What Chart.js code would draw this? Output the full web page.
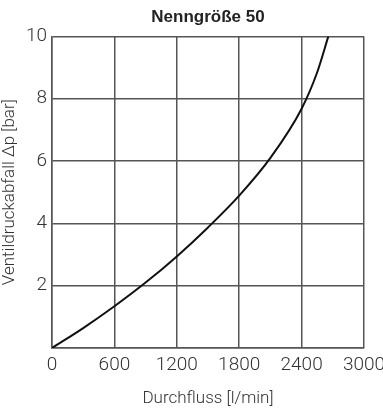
<!DOCTYPE html>
<html><head><meta charset="utf-8">
<script src="https://cdn.jsdelivr.net/npm/chart.js@4"></script>
<style>html,body{margin:0;padding:0;background:#fff}#w{width:383px;height:409px}</style>
</head><body><div id="w"><canvas id="c"></canvas></div>
<script>
const flow = [0, 300, 600, 900, 1200, 1500, 1800, 2100, 2400, 2550, 2657];
const pressure = [0, 0.64, 1.34, 2.1, 2.94, 3.87, 4.89, 6.1, 7.68, 8.85, 10];
const xTicks = [0, 600, 1200, 1800, 2400, 3000];
const yTicks = [0, 2, 4, 6, 8, 10];
const titleText = 'Nenngröße 50';
const xTitle = 'Durchfluss [l/min]';
const yTitle = 'Ventildruckabfall Δp [bar]';

const pts = flow.map((x, i) => ({x, y: pressure[i]}));
const tickFont = {family: 'Roboto', size: 19, weight: 300};
const titleFont = {family: 'Roboto', size: 17, weight: 300};
new Chart(document.getElementById('c'), {
  type: 'scatter',
  data: {datasets: [{data: pts, showLine: true, borderColor: '#111', borderWidth: 2, pointRadius: 0, tension: 0, cubicInterpolationMode: 'monotone', fill: false}]},
  options: {
    responsive: true, maintainAspectRatio: false, animation: false,
    layout: {padding: {left: 0, right: 19, top: 0, bottom: 0}},
    plugins: {
      legend: {display: false}, tooltip: {enabled: false},
      title: {display: true, text: titleText, fullSize: false, color: '#222',
        font: {family: 'Liberation Sans', size: 17, weight: 'bold'}, padding: {top: 7, bottom: 9}}
    },
    scales: {
      x: {type: 'linear', min: 0, max: 3000,
        afterBuildTicks: s => { s.ticks = xTicks.map(v => ({value: v})); },
        afterFit: s => { s.height = 61; s.paddingLeft = 0; s.paddingRight = 0; },
        grid: {color: '#555', lineWidth: 1.5, drawTicks: false},
        border: {color: '#555', width: 1.5},
        ticks: {font: tickFont, color: '#333', padding: 6, maxRotation: 0, callback: v => String(v)},
        title: {display: true, text: xTitle, font: titleFont, color: '#333', padding: {top: 4, bottom: 0}}},
      y: {type: 'linear', min: 0, max: 10,
        afterBuildTicks: s => { s.ticks = yTicks.map(v => ({value: v})); },
        afterFit: s => { s.width = 52; s.paddingTop = 0; s.paddingBottom = 0; },
        grid: {color: '#555', lineWidth: 1.5, drawTicks: false},
        border: {color: '#555', width: 1.5},
        ticks: {font: tickFont, color: '#333', padding: 5, callback: v => v === 0 ? '' : String(v)},
        title: {display: true, text: yTitle, font: titleFont, color: '#333', padding: {top: 0, bottom: 4}}}
    }
  }
});
</script></body></html>
